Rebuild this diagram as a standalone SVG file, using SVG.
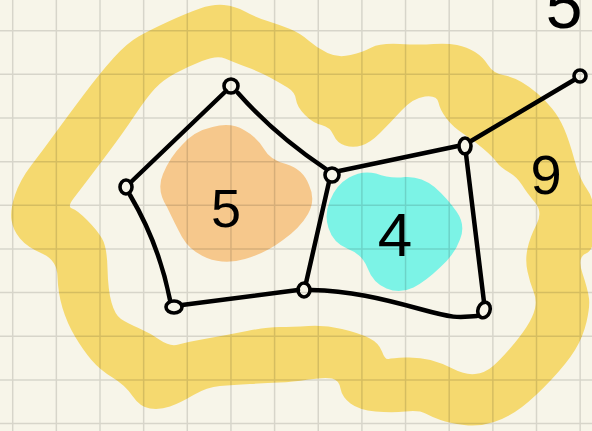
<svg xmlns="http://www.w3.org/2000/svg" width="592" height="431" viewBox="0 0 592 431">
<style>
.grid{stroke:#000;stroke-opacity:0.13;stroke-width:1.5;fill:none}
.edge{stroke:#000;stroke-width:4.5;fill:none;stroke-linecap:round;stroke-linejoin:round}
.node{stroke:#000;stroke-width:3.6;fill:none}
.lbl{font-family:"Liberation Sans",Arial,sans-serif;fill:#000;text-anchor:middle}
</style>
<rect width="592" height="431" fill="#f7f5e9"/>
<g id="regions">
<path id="loop-9" fill="#f5d96f" fill-rule="evenodd" d="M 11.5,220 Q 10,210 15,195 Q 20,180 31.5,165 Q 43,150 55,133.5 Q 67,117 83.5,95 Q 100,73 113.5,58 Q 127,43 138.5,36.5 Q 150,30 168.5,21.5 Q 187,13 200,8.5 Q 213,4 224,5 Q 235,6 245,11.5 Q 255,17 267.5,21 Q 280,25 290,29 Q 300,33 308.5,40.5 Q 317,48 327.5,53 Q 338,58 350.5,55 Q 363,52 371.5,47.5 Q 380,43 400,44 Q 420,45 433.5,44 Q 447,43 457,45 Q 467,47 475,52 Q 483,57 488,65 Q 493,73 503,75 Q 513,77 521.5,82 Q 530,87 537.5,93.5 Q 545,100 552,108.5 Q 559,117 564,128.5 Q 569,140 574.5,160 Q 580,180 587.5,190 Q 595,200 595,225 Q 595,250 586,253.5 Q 577,257 582.5,273.5 Q 588,290 589,298.5 Q 590,307 586.5,322 Q 583,337 575,350 Q 567,363 551,380 Q 535,397 522,407 Q 509,417 494,422 Q 479,427 464,425 Q 449,423 440.5,420 Q 432,417 425.5,413.5 Q 419,410 405.5,411.5 Q 392,413 375.5,411.5 Q 359,410 350.5,403.5 Q 342,397 340.5,388.5 Q 339,380 332,378.5 Q 325,377 308.5,379.5 Q 292,382 279.5,382.5 Q 267,383 250,384 Q 233,385 220,386 Q 207,387 193.5,395 Q 180,403 170,406.5 Q 160,410 150,408.5 Q 140,407 132.5,396 Q 125,385 112.5,377.5 Q 100,370 91.5,360 Q 83,350 75,336.5 Q 67,323 62.5,308 Q 58,293 57.5,276.5 Q 57,260 42,253.5 Q 27,247 20,238.5 Q 13,230 11.5,220 Z M 72,208.5 Q 67,207 73.5,198.5 Q 80,190 86.5,181.5 Q 93,173 108,153 Q 123,133 135,115 Q 147,97 155,88.5 Q 163,80 175,73.5 Q 187,67 202,61 Q 217,55 225,58.5 Q 233,62 246.5,67 Q 260,72 270,77.5 Q 280,83 287.5,87.5 Q 295,92 296,99.5 Q 297,107 305,115 Q 313,123 321.5,125 Q 330,127 333.5,135 Q 337,143 345,145.5 Q 353,148 361.5,145.5 Q 370,143 380,133 Q 390,123 401.5,110.5 Q 413,98 425,96.5 Q 437,95 438.5,102.5 Q 440,110 446.5,118.5 Q 453,127 463,133.5 Q 473,140 483,148.5 Q 493,157 496.5,162 Q 500,167 508.5,172 Q 517,177 522,185 Q 527,193 535,202.5 Q 543,212 536.5,224.5 Q 530,237 527.5,248.5 Q 525,260 527.5,271.5 Q 530,283 533.5,291.5 Q 537,300 535,308.5 Q 533,317 526.5,327 Q 520,337 510,348.5 Q 500,360 492.5,366.5 Q 485,373 475,374 Q 465,375 453.5,369 Q 442,363 430.5,360 Q 419,357 405.5,357.5 Q 392,358 388.5,359 Q 385,360 382,351.5 Q 379,343 369,338 Q 359,333 342,329 Q 325,325 308.5,326 Q 292,327 279.5,327 Q 267,327 247,331 Q 227,335 207,338.5 Q 187,342 178.5,344.5 Q 170,347 160,340 Q 150,333 138.5,328 Q 127,323 121,319 Q 115,315 111.5,302.5 Q 108,290 107.5,268.5 Q 107,247 102,238.5 Q 97,230 87,220 Q 77,210 72,208.5 Z"/>
<path id="face-5" fill="#f6c88c" d="M 167,207 Q 156,190 163,174 Q 170,157 182,145 Q 194,131 212.5,127 Q 231,122 244,130 Q 257,137 264,149 Q 270,160 286,164 Q 303,169 309,185 Q 316,200 308,214 Q 300,228 283,240 Q 266,253 245,259 Q 225,265 207,258 Q 190,251 182,237 Q 175,224 167,207 Z"/>
<path id="face-4" fill="#7cf3e6" d="M 328.5,228 Q 324,215 330,200.5 Q 336,185 349,177.5 Q 362,170 376,173.5 Q 390,179 405,177 Q 421,176 434.5,187 Q 447,198 456.5,211.5 Q 466,225 460,239.5 Q 455,254 440.5,267 Q 426,281 413.5,287.5 Q 400,294 386.5,288.5 Q 373,283 367.5,268 Q 362,254 348,249 Q 333,243 328.5,228 Z"/>
</g>
<path class="grid" d="M12.7 0V431M56.35 0V431M100 0V431M143.65 0V431M187.3 0V431M230.95 0V431M274.6 0V431M318.25 0V431M361.9 0V431M405.55 0V431M449.2 0V431M492.85 0V431M536.5 0V431M580.15 0V431M0 30.7H592M0 74.35H592M0 118H592M0 161.65H592M0 205.3H592M0 248.95H592M0 292.6H592M0 336.25H592M0 379.9H592M0 423.55H592"/>
<g id="edges">
<path class="edge" d="M 226,91 L 131,182"/>
<path class="edge" d="M 130,195 Q 159,244 170,300"/>
<path class="edge" d="M 182,305 L 298,290"/>
<path class="edge" d="M 329,182 L 306,283"/>
<path class="edge" d="M 238,93 Q 275,135 326,169"/>
<path class="edge" d="M 339,171 L 458,146"/>
<path class="edge" d="M 466,154 L 484,302"/>
<path class="edge" d="M 311,290 C 350,291 380,298 420,309 S 460,317 477,316"/>
<path class="edge" d="M 471,141 L 574,80"/>
</g>
<g id="node-a"><ellipse class="node" cx="231" cy="86" rx="7" ry="7"/></g>
<g id="node-b"><ellipse class="node" cx="126" cy="187" rx="6" ry="7"/></g>
<g id="node-c"><ellipse class="node" cx="174" cy="307" rx="8" ry="6"/></g>
<g id="node-d"><ellipse class="node" cx="304" cy="290" rx="6" ry="7"/></g>
<g id="node-e"><ellipse class="node" cx="332" cy="175" rx="7" ry="7"/></g>
<g id="node-f"><ellipse class="node" cx="465" cy="146" rx="6" ry="8"/></g>
<g id="node-g"><ellipse class="node" cx="484" cy="310" rx="6" ry="8" transform="rotate(20 484 310)"/></g>
<g id="node-h"><ellipse class="node" cx="580" cy="76" rx="6" ry="6" stroke-width="5"/></g>
<g id="labels">
<text class="lbl" x="226" y="227" font-size="54">5</text>
<text class="lbl" x="395" y="256" font-size="62">4</text>
<text class="lbl" x="546" y="194" font-size="56">9</text>
<text class="lbl" x="564" y="28" font-size="66">5</text>
</g>
</svg>
